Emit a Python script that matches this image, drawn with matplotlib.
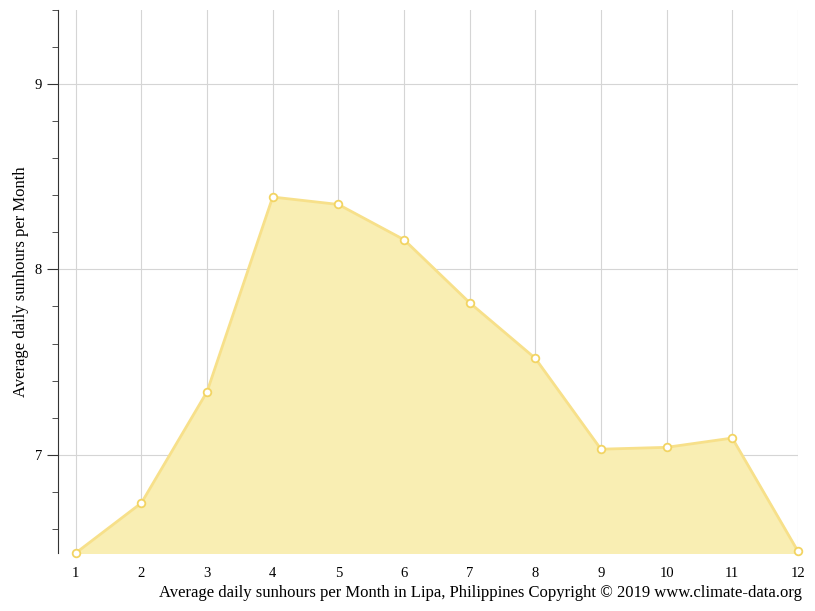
import matplotlib
matplotlib.use("Agg")
import matplotlib.pyplot as plt
import numpy as np

months = [1,2,3,4,5,6,7,8,9,10,11,12]
sunhours = [6.47,6.74,7.34,8.39,8.35,8.16,7.82,7.52,7.03,7.04,7.09,6.48]
yticks = [7,8,9]

plt.rcParams['font.family'] = ['Liberation Serif','DejaVu Serif']
fig = plt.figure(figsize=(8.15,6.11), dpi=100)
ax = fig.add_axes([0.0712,0.0949,0.979-0.0712,0.984-0.0949])
ymin = 6.47
ax.fill_between(months, sunhours, ymin, color='#f9eeb3', zorder=2)
ax.plot(months, sunhours, color='#f7e08a', lw=2, zorder=3)
ax.plot(months, sunhours, 'o', ms=5.5, mfc='white', mec='#f2d463', mew=1.3, zorder=4, clip_on=False)
ax.set_xlim(0.73, 12)
ax.set_ylim(ymin, 9.39)
ax.set_xticks(months)
ax.set_yticks(yticks)
ax.set_yticks(np.arange(6.6,9.4,0.2), minor=True)
ax.grid(True, which='major', color='#d5d5d5', lw=0.8, zorder=0)
for s in ['top','right','bottom']:
    ax.spines[s].set_visible(False)
ax.spines['left'].set_color('#333333')
ax.tick_params(axis='x', length=0, labelsize=10.5, pad=10)
ax.tick_params(axis='y', which='major', length=8, labelsize=10.5, color='#333333')
ax.tick_params(axis='y', which='minor', length=4, color='#333333')
ax.set_ylabel('Average daily sunhours per Month', fontsize=12)
fig.text(0.984, 0.016, 'Average daily sunhours per Month in Lipa, Philippines Copyright © 2019 www.climate-data.org',
         ha='right', va='bottom', fontsize=12)
fig.savefig('out.png', dpi=100)
